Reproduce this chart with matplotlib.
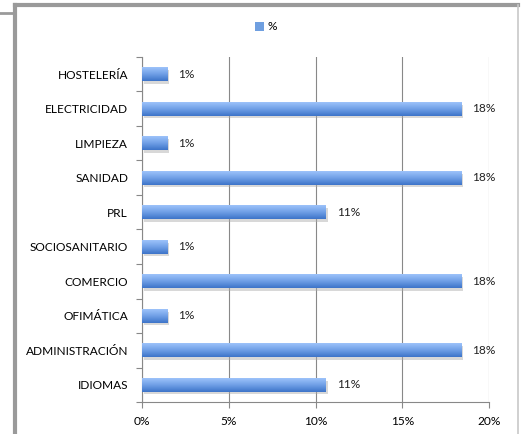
import matplotlib
matplotlib.use("Agg")
import matplotlib.pyplot as plt
import numpy as np
from matplotlib import patheffects as pe
from matplotlib.lines import Line2D
from matplotlib.patches import Rectangle
from matplotlib.colors import LinearSegmentedColormap

categories = ["IDIOMAS", "ADMINISTRACIÓN", "OFIMÁTICA", "COMERCIO", "SOCIOSANITARIO",
              "PRL", "SANIDAD", "LIMPIEZA", "ELECTRICIDAD", "HOSTELERÍA"]
values = [10.6, 18.4, 1.45, 18.4, 1.45, 10.6, 18.4, 1.45, 18.4, 1.45]
labels = ["11%", "18%", "1%", "18%", "1%", "11%", "18%", "1%", "18%", "1%"]
xticks = [0, 5, 10, 15, 20]
xticklabels = ["0%", "5%", "10%", "15%", "20%"]
series_name = "%"

plt.rcParams['font.family'] = ['Lato', 'DejaVu Sans']
fs = 8.6

W, H = 527, 434
fig = plt.figure(figsize=(W / 100, H / 100), dpi=100)
fig.patch.set_facecolor('white')

def fx(x): return x / W
def fy(y): return 1 - y / H
frame_col = '#9a9a9a'
fig.add_artist(Line2D([fx(15), fx(518)], [fy(5), fy(5)], color=frame_col, lw=3, transform=fig.transFigure))
fig.add_artist(Line2D([fx(15), fx(15)], [fy(5), fy(434)], color=frame_col, lw=3, transform=fig.transFigure))
fig.add_artist(Line2D([fx(518), fx(518)], [fy(5), fy(434)], color='#c8c8c8', lw=1.2, transform=fig.transFigure))
fig.add_artist(Line2D([fx(0), fx(15)], [fy(13), fy(13)], color=frame_col, lw=2, transform=fig.transFigure))

ax = fig.add_axes([142 / W, 1 - 402 / H, (489 - 142) / W, (402 - 57) / H])
y = np.arange(len(categories))
bh = 0.4
bars = ax.barh(y, values, height=bh, color='#6f9fe0', zorder=3,
               path_effects=[pe.SimplePatchShadow(offset=(1.5, -2), shadow_rgbFace='#aaaaaa', alpha=0.45), pe.Normal()])

grad = np.linspace(0, 1, 64).reshape(-1, 1)
cmap = LinearSegmentedColormap.from_list('g', ['#3d74c9', '#6f9fe6', '#9dc3fa'])
for b in bars:
    x0, y0 = b.get_x(), b.get_y()
    w, h = b.get_width(), b.get_height()
    im = ax.imshow(grad, extent=[x0, x0 + w, y0, y0 + h], origin='lower', cmap=cmap,
                   aspect='auto', zorder=4, interpolation='bilinear')
    im.set_clip_path(b)

for yi, v, lab in zip(y, values, labels):
    ax.annotate(lab, (v, yi), xytext=(8, 0), textcoords='offset points',
                va='center', ha='left', fontsize=fs, color='#222222')

ax.set_xlim(0, 20)
ax.set_ylim(-0.5, len(categories) - 0.5)
ax.set_xticks(xticks)
ax.set_xticklabels(xticklabels, fontsize=fs)
ax.set_yticks(y)
ax.set_yticklabels(categories, fontsize=fs)
ax.set_yticks(np.arange(-0.5, len(categories), 1), minor=True)
ax.tick_params(axis='y', which='major', length=0, pad=10)
ax.tick_params(axis='y', which='minor', length=4, color='#888888', width=0.8)
ax.tick_params(axis='x', length=4, color='#888888', width=0.8, pad=6)
ax.xaxis.grid(True, color='#888888', lw=0.8, zorder=0)
ax.set_axisbelow(True)
for s in ['top', 'right']:
    ax.spines[s].set_visible(False)
for s in ['left', 'bottom']:
    ax.spines[s].set_color('#888888')
    ax.spines[s].set_linewidth(0.8)

handle = Rectangle((0, 0), 1, 1, facecolor='#6f9fe0', edgecolor='none')
fig.legend([handle], [series_name], loc='center', bbox_to_anchor=(fx(266), fy(27)),
           frameon=False, fontsize=fs, handlelength=0.8, handleheight=0.7, handletextpad=0.3)

fig.savefig('out.png', dpi=100)
